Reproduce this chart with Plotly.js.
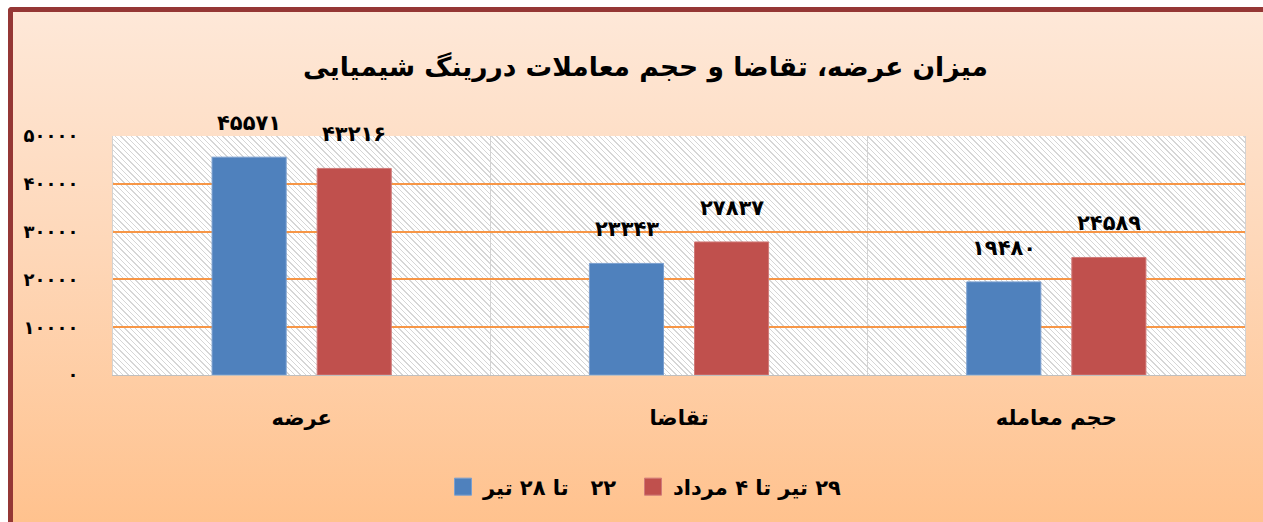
<!DOCTYPE html>
<html>
<head>
<meta charset="utf-8">
<script src="https://cdn.plot.ly/plotly-3.0.1.min.js"></script>
<style>
html,body{margin:0;padding:0;background:#ffffff;overflow:hidden;width:1263px;height:522px;}
#frame{position:absolute;left:8px;top:7px;width:1280px;height:540px;box-sizing:border-box;
border-left:5px solid #953735;border-top:5px solid #953735;border-top-left-radius:4px;
background:linear-gradient(to bottom,#FEE8D8 0%,#FED7B8 45%,#FFC08A 100%);}
#hatch{position:absolute;left:113px;top:136px;width:1132px;height:239px;
background-color:#ffffff;
background-image:repeating-linear-gradient(45deg,#ffffff 0px,#ffffff 2.8px,#D6D6D6 2.8px,#D6D6D6 3.8px);}
#chart{position:absolute;left:0;top:0;width:1263px;height:522px;}
</style>
</head>
<body>
<div id="frame"></div>
<div id="hatch"></div>
<div id="chart"></div>
<script>
// ---- data ----
const categories = ["عرضه", "تقاضا", "حجم معامله"];
const seriesNames = ["۲۲\u00A0\u00A0 تا ۲۸ تیر", "۲۹ تیر تا ۴ مرداد"];
const series1 = [45571, 23343, 19480];
const series2 = [43216, 27837, 24589];
const yTickVals = [0, 10000, 20000, 30000, 40000, 50000];
const title = "میزان عرضه، تقاضا و حجم معاملات دررینگ شیمیایی";

function toFa(n){ return String(n).replace(/[0-9]/g, d => "۰۱۲۳۴۵۶۷۸۹"[+d]); }
const yTickText = yTickVals.map(toFa);
const RLM = "\u200F";

const FONT = "DejaVu Sans";
const colors = ["#4F81BD", "#C0504D"];
const lineColors = ["#7A9FCF", "#D07A78"];
const legendWidths = [145, 190];
const allSeries = [series1, series2];

const traces = allSeries.map((vals, i) => ({
  type: "bar",
  x: categories,
  y: vals,
  name: RLM + seriesNames[i],
  legendwidth: legendWidths[i],
  marker: {color: colors[i], line: {color: lineColors[i], width: 1}},
  hoverinfo: "x+y"
}));

const annotations = [];
allSeries.forEach((vals, i) => {
  vals.forEach((v, j) => {
    annotations.push({
      x: categories[j], y: v, xref: "x", yref: "y",
      text: "<b>" + toFa(v) + "</b>", showarrow: false,
      xshift: i === 0 ? -52.5 : 52.5, yshift: 34,
      yanchor: "middle", xanchor: "center",
      font: {family: FONT, size: 21, color: "#000"}
    });
  });
});

const layout = {
  width: 1263, height: 522,
  margin: {l: 113, r: 18, t: 136, b: 147},
  paper_bgcolor: "rgba(0,0,0,0)",
  plot_bgcolor: "rgba(0,0,0,0)",
  font: {family: FONT, color: "#000"},
  title: {
    text: "<b>" + title + "</b>",
    font: {family: FONT, size: 26.5, color: "#000"},
    x: 0.511, xref: "container", xanchor: "center",
    y: 1 - 67/522, yref: "container", yanchor: "middle"
  },
  barmode: "group",
  bargap: 0.443,
  bargroupgap: 0.295,
  xaxis: {
    type: "category",
    tickson: "boundaries",
    showgrid: true, gridcolor: "#D3D3D3", gridwidth: 1,
    showline: true, linecolor: "#BFBFBF", linewidth: 1,
    ticks: "", ticklabelstandoff: 24,
    tickfont: {family: FONT, size: 21, color: "#000", weight: "bold"},
    fixedrange: true
  },
  yaxis: {
    range: [0, 50000],
    tickvals: yTickVals, ticktext: yTickText,
    showgrid: true, gridcolor: "#F79646", gridwidth: 1.8,
    zeroline: false,
    showline: true, mirror: true, linecolor: "#D3D3D3", linewidth: 1,
    ticks: "", ticklabelstandoff: 30,
    tickfont: {family: FONT, size: 18, color: "#000", weight: "bold"},
    fixedrange: true
  },
  legend: {
    orientation: "h",
    x: (443-113)/1132, xanchor: "left",
    y: (375-487)/239, yanchor: "middle",
    font: {family: FONT, size: 21, color: "#000", weight: "bold"},
    bgcolor: "rgba(0,0,0,0)",
    itemwidth: 30,
    entrywidthmode: "pixels"
  },
  annotations: annotations,
  showlegend: true
};

Plotly.newPlot("chart", traces, layout, {displayModeBar: false, staticPlot: true}).then(() => {
  document.querySelectorAll("#chart .legendpoints path").forEach(p => {
    p.setAttribute("d", "M8.5,8.5H-8.5V-8.5H8.5Z");
  });
});
</script>
</body>
</html>
